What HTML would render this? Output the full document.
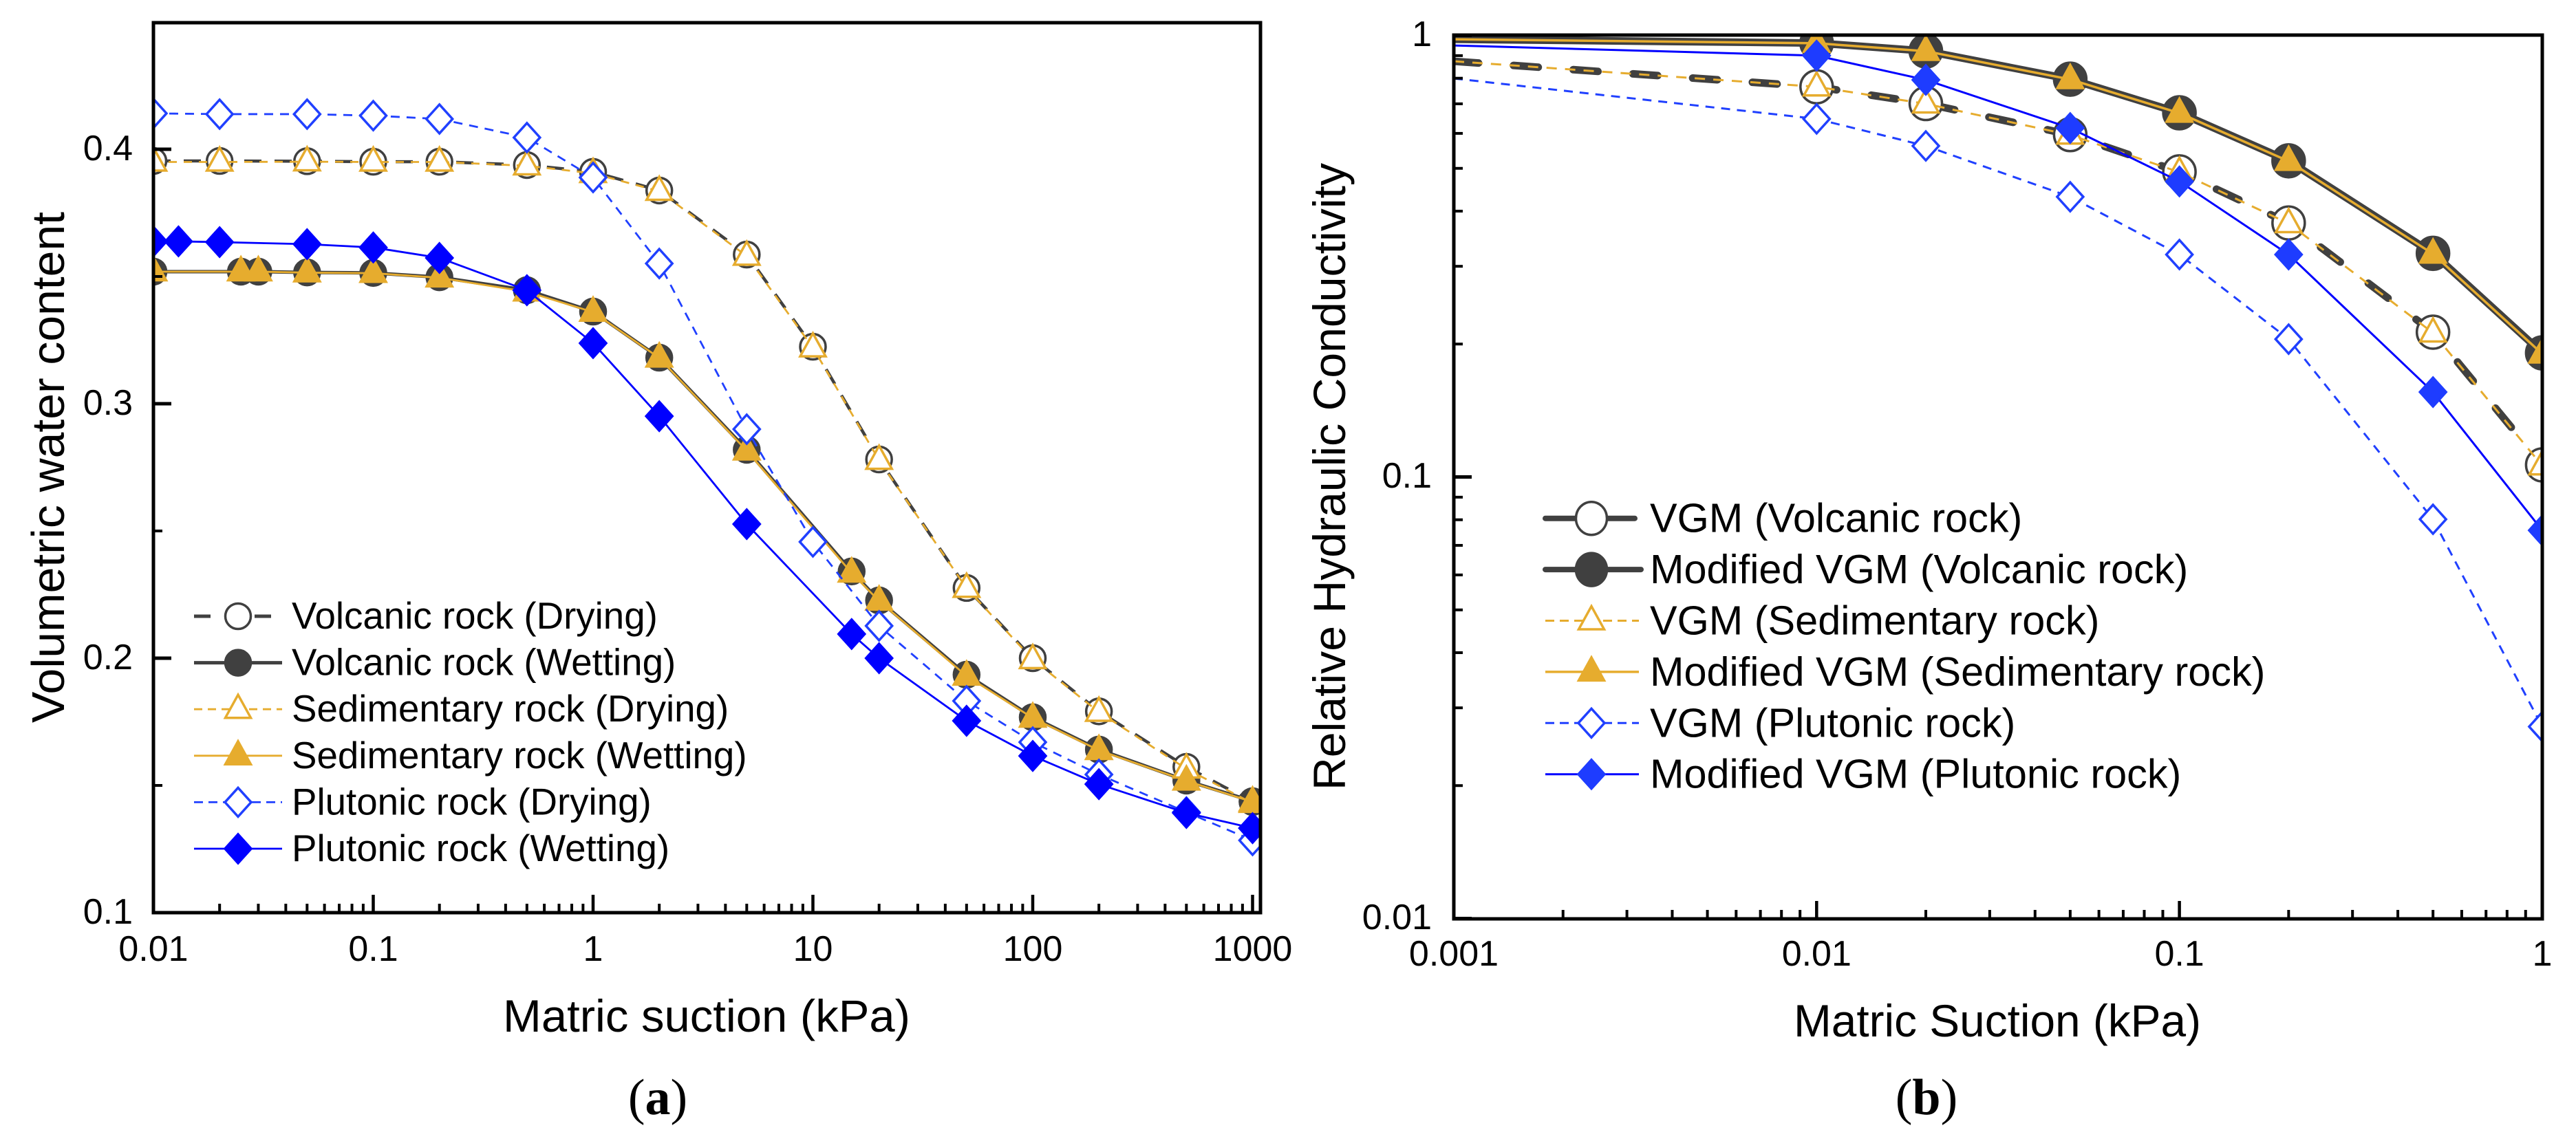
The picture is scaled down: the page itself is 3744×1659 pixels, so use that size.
<!DOCTYPE html>
<html lang="en">
<head>
<meta charset="utf-8">
<title>Water retention and relative hydraulic conductivity curves</title>
<style>
  html, body { margin: 0; padding: 0; background: #fff; width: 3744px; height: 1659px; overflow: hidden; }
  svg { display: block; }
  text { font-family: "Liberation Sans", sans-serif; fill: #000; }
  .cap { font-family: "Liberation Serif", serif; font-size: 74px; }
</style>
</head>
<body>
<svg id="root" xmlns="http://www.w3.org/2000/svg" width="3744" height="1659" viewBox="0 0 3744 1659">
  <rect width="3744" height="1659" fill="#fff"/>
  <defs>
    <clipPath id="clipA"><rect x="223" y="33" width="1609" height="1294"/></clipPath>
    <clipPath id="clipB"><rect x="2113" y="51" width="1582" height="1285"/></clipPath>
  </defs>
  <g id="panelA"></g>
  <g id="panelB"></g>
  <text class="cap" x="956" y="1620" text-anchor="middle">(<tspan font-weight="bold">a</tspan>)</text>
  <text class="cap" x="2800" y="1620" text-anchor="middle">(<tspan font-weight="bold">b</tspan>)</text>
</svg>
<script>
// ---- Panel A data: matric suction (kPa) vs. volumetric water content ----
const aDryX = [0.01, 0.02, 0.05, 0.1, 0.2, 0.5, 1, 2, 5, 10, 20, 50, 100, 200, 500, 1000];
const aWetX = [0.01, 0.025, 0.03, 0.05, 0.1, 0.2, 0.5, 1, 2, 5, 15, 20, 50, 100, 200, 500, 1000];
const aPluWetX = [0.01, 0.013, 0.02, 0.05, 0.1, 0.2, 0.5, 1, 2, 5, 15, 20, 50, 100, 200, 500, 1000];
const aVolcanicDry = [0.3954, 0.3954, 0.3953, 0.3951, 0.3951, 0.3938, 0.3911, 0.3838, 0.3586, 0.3224, 0.2781, 0.2276, 0.2, 0.1791, 0.1573, 0.1435];
const aVolcanicWet = [0.3519, 0.3519, 0.3519, 0.3516, 0.3514, 0.3497, 0.3446, 0.3362, 0.3181, 0.2819, 0.2341, 0.2227, 0.1935, 0.1768, 0.1641, 0.1519, 0.1438];
const aSedimentDry = [0.395, 0.395, 0.3951, 0.395, 0.395, 0.3935, 0.3905, 0.3835, 0.358, 0.322, 0.2778, 0.2275, 0.1995, 0.1788, 0.1565, 0.143];
const aSedimentWet = [0.3519, 0.3519, 0.3519, 0.3515, 0.3513, 0.3495, 0.344, 0.336, 0.318, 0.2815, 0.2335, 0.2225, 0.193, 0.1765, 0.1638, 0.1518, 0.1435];
const aPlutonicDry = [0.4141, 0.4138, 0.4138, 0.4132, 0.4119, 0.4046, 0.3889, 0.3551, 0.29, 0.2457, 0.2127, 0.1832, 0.167, 0.1543, 0.1395, 0.1284];
const aPlutonicWet = [0.3638, 0.3638, 0.3635, 0.3627, 0.3614, 0.3573, 0.3446, 0.3238, 0.2951, 0.2527, 0.2095, 0.2, 0.1754, 0.1616, 0.1505, 0.1392, 0.1332];
const aXTicks = ['0.01', '0.1', '1', '10', '100', '1000'];
const aYTicks = ['0.1', '0.2', '0.3', '0.4'];
const aYMinor = [0.15, 0.25, 0.35];
const aLegend = ['Volcanic rock (Drying)', 'Volcanic rock (Wetting)', 'Sedimentary rock (Drying)', 'Sedimentary rock (Wetting)', 'Plutonic rock (Drying)', 'Plutonic rock (Wetting)'];

// ---- Panel B data: matric suction (kPa) vs. relative hydraulic conductivity ----
const bX = [0.001, 0.01, 0.02, 0.05, 0.1, 0.2, 0.5, 1];
const bVolcanicVGM = [0.874, 0.765, 0.701, 0.596, 0.491, 0.376, 0.2128, 0.1065];
const bVolcanicMod = [0.98, 0.961, 0.922, 0.796, 0.668, 0.52, 0.321, 0.191];
const bSedimentVGM = [0.874, 0.765, 0.7, 0.595, 0.49, 0.375, 0.212, 0.106];
const bSedimentMod = [0.98, 0.96, 0.921, 0.795, 0.667, 0.519, 0.32, 0.19];
const bPlutonicVGM = [0.799, 0.647, 0.562, 0.431, 0.319, 0.2052, 0.0802, 0.0272];
const bPlutonicMod = [0.949, 0.9, 0.793, 0.617, 0.467, 0.319, 0.1557, 0.0757];
const bXTicks = ['0.001', '0.01', '0.1', '1'];
const bYTicks = ['0.01', '0.1', '1'];
const bLegend = ['VGM (Volcanic rock)', 'Modified VGM (Volcanic rock)', 'VGM (Sedimentary rock)', 'Modified VGM (Sedimentary rock)', 'VGM (Plutonic rock)', 'Modified VGM (Plutonic rock)'];

// ---- Axis functions ----
const axA = {
  x: v => 223 + (Math.log10(v) + 2) * 319.5,
  y: v => 1327 - (v - 0.1) * 3700,
  l: 223, r: 1832, t: 33, b: 1327
};
const axB = {
  x: v => 2113 + (Math.log10(v) + 3) * 527.3,
  y: v => 51.5 - Math.log10(v) * 642,
  l: 2113, r: 3695, t: 51, b: 1336
};

const NS = 'http://www.w3.org/2000/svg';
function make(tag, attrs, parent, txt) {
  const e = document.createElementNS(NS, tag);
  for (const k in attrs) e.setAttribute(k, attrs[k]);
  if (txt !== undefined) e.textContent = txt;
  parent.appendChild(e);
  return e;
}

const DARK = '#404040', GOLD = '#e6ac2e', BLUE = '#2040ff', PURE = '#0000ff';

function markerShape(kind, cx, cy, stroke, fill, rx, ry, parent, name) {
  let m;
  if (kind === 'circle') {
    m = make('ellipse', { cx: cx, cy: cy, rx: rx, ry: ry, fill: fill, stroke: stroke, 'stroke-width': 3.5 }, parent);
  } else if (kind === 'triangle') {
    m = make('polygon', { points: `${cx},${cy - 21} ${cx + 18.5},${cy + 12.5} ${cx - 18.5},${cy + 12.5}`, fill: fill, stroke: stroke, 'stroke-width': 3.5 }, parent);
  } else {
    m = make('polygon', { points: `${cx},${cy - 21} ${cx + 19},${cy} ${cx},${cy + 21} ${cx - 19},${cy}`, fill: fill, stroke: stroke, 'stroke-width': 3.5 }, parent);
  }
  
  
}

function linePath(pts) {
  return pts.map((p, i) => (i ? 'L' : 'M') + p[0].toFixed(2) + ',' + p[1].toFixed(2)).join(' ');
}

function drawSeries(ax, group, key, xs, ys, st, firstMarker) {
  const g = make('g', {}, group);
  
  
  const pts = xs.map((x, i) => [ax.x(x), ax.y(ys[i])]);
  const line = make('path', {
    d: linePath(pts), fill: 'none', stroke: st.color, 'stroke-width': st.lw,
    'stroke-dasharray': st.dash || 'none', 'stroke-linecap': st.cap || 'butt', 'stroke-linejoin': 'round'
  }, g);
  
  
  for (let i = firstMarker; i < pts.length; i++) {
    markerShape(st.kind, pts[i][0], pts[i][1], st.mstroke, st.mfill, st.rx, st.ry, g, 'marker-' + key);
  }
}

function tick(group, x1, y1, x2, y2, w, name) {
  const t = make('line', { x1: x1, y1: y1, x2: x2, y2: y2, stroke: '#000', 'stroke-width': w }, group);
  
  
}

function label(group, txt, x, y, size, anchor, name) {
  const t = make('text', { x: x, y: y, 'font-size': size, 'text-anchor': anchor }, group, txt);
  
  
  return t;
}

function frame(group, ax, name) {
  const r = make('rect', { x: ax.l, y: ax.t, width: ax.r - ax.l, height: ax.b - ax.t, fill: 'none', stroke: '#000', 'stroke-width': 5 }, group);
  
  
}

function logMinorX(group, ax, labels) {
  labels.forEach((lab, i) => {
    const base = parseFloat(lab);
    const px = ax.x(base);
    tick(group, px, ax.b, px, ax.b - 26, 4.5, 'x-major-tick');
    label(group, lab, px, ax === axA ? 1397 : 1404, 52, 'middle', 'x-tick-label');
    if (i < labels.length - 1) {
      for (let m = 2; m < 10; m++) {
        const q = ax.x(base * m);
        tick(group, q, ax.b, q, ax.b - 13, 4, 'x-minor-tick');
      }
    }
  });
}

function legend(group, rows, styles, cfg) {
  rows.forEach((txt, i) => {
    const y = cfg.y0 + cfg.step * i;
    const st = styles[i];
    const g = make('g', {}, group);
    
    
    const ln = make('line', {
      x1: cfg.x1, y1: y, x2: st.lx2 || cfg.x2, y2: y, stroke: st.color,
      'stroke-width': st.llw || st.lw, 'stroke-dasharray': st.ldash || 'none', 'stroke-linecap': st.lcap || 'butt'
    }, g);
    
    
    markerShape(st.kind, cfg.mx, y, st.mstroke, st.mfill, cfg.rx, cfg.ry, g, 'legend-marker');
    label(g, txt, cfg.tx, y + cfg.base, cfg.size, 'start', 'legend-label');
  });
}

// ---- Panel A ----
(function () {
  const root = document.getElementById('panelA');
  const styles = [
    { color: DARK, lw: 4.5, dash: '25 19', kind: 'circle', mstroke: DARK, mfill: '#fff', rx: 18.5, ry: 18.5, llw: 5, ldash: '24 64 24 100', lcap: 'butt' },
    { color: DARK, lw: 5, kind: 'circle', mstroke: DARK, mfill: DARK, rx: 18.5, ry: 18.5 },
    { color: GOLD, lw: 2.8, dash: '12 10', kind: 'triangle', mstroke: GOLD, mfill: '#fff', ldash: '12 8' },
    { color: GOLD, lw: 2.8, kind: 'triangle', mstroke: GOLD, mfill: GOLD },
    { color: BLUE, lw: 2.8, dash: '13 10', kind: 'diamond', mstroke: BLUE, mfill: '#fff', ldash: '13 8' },
    { color: PURE, lw: 2.8, kind: 'diamond', mstroke: PURE, mfill: PURE }
  ];
  const plot = make('g', { 'clip-path': 'url(#clipA)' }, root);
  
  
  drawSeries(axA, plot, 'volcanic-drying', aDryX, aVolcanicDry, styles[0], 0);
  drawSeries(axA, plot, 'volcanic-wetting', aWetX, aVolcanicWet, styles[1], 0);
  drawSeries(axA, plot, 'sedimentary-drying', aDryX, aSedimentDry, styles[2], 0);
  drawSeries(axA, plot, 'sedimentary-wetting', aWetX, aSedimentWet, styles[3], 0);
  drawSeries(axA, plot, 'plutonic-drying', aDryX, aPlutonicDry, styles[4], 0);
  drawSeries(axA, plot, 'plutonic-wetting', aPluWetX, aPlutonicWet, styles[5], 0);

  frame(root, axA, 'panel-a-frame');
  logMinorX(root, axA, aXTicks);
  aYTicks.forEach(lab => {
    const py = axA.y(parseFloat(lab));
    tick(root, axA.l, py, axA.l + 26, py, 5, 'y-major-tick');
    label(root, lab, 193, py + 16, 52, 'end', 'y-tick-label');
  });
  aYMinor.forEach(v => {
    const py = axA.y(v);
    tick(root, axA.l, py, axA.l + 13, py, 4, 'y-minor-tick');
  });
  const xt = label(root, 'Matric suction (kPa)', 1027, 1500, 66, 'middle', 'x-axis-title');
  xt.setAttribute('textLength', 592);
  xt.setAttribute('lengthAdjust', 'spacingAndGlyphs');
  const yt = label(root, 'Volumetric water content', 0, 0, 67, 'middle', 'y-axis-title');
  yt.setAttribute('transform', 'translate(93,679.5) rotate(-90)');
  yt.setAttribute('textLength', 743);
  yt.setAttribute('lengthAdjust', 'spacingAndGlyphs');

  const lg = make('g', {}, root);
  
  
  legend(lg, aLegend, styles, { y0: 896, step: 67.6, x1: 282, x2: 410, mx: 346, tx: 424, base: 18, size: 54.7, rx: 18.5, ry: 18.5 });
})();

// ---- Panel B ----
(function () {
  const root = document.getElementById('panelB');
  const styles = [
    { color: DARK, lw: 11, dash: '36 51', cap: 'round', kind: 'circle', mstroke: DARK, mfill: '#fff', rx: 23.5, ry: 24, llw: 8, lcap: 'round', lx2: 2376 },
    { color: DARK, lw: 11, kind: 'circle', mstroke: DARK, mfill: DARK, rx: 23.5, ry: 24, llw: 8, lcap: 'round', lx2: 2385 },
    { color: GOLD, lw: 3, dash: '15 12', kind: 'triangle', mstroke: GOLD, mfill: '#fff', ldash: '13 8' },
    { color: GOLD, lw: 3.5, kind: 'triangle', mstroke: GOLD, mfill: GOLD },
    { color: BLUE, lw: 3, dash: '13 10', kind: 'diamond', mstroke: BLUE, mfill: '#fff', ldash: '13 8' },
    { color: PURE, lw: 3, kind: 'diamond', mstroke: '#1e3cff', mfill: '#1e3cff' }
  ];
  const plot = make('g', { 'clip-path': 'url(#clipB)' }, root);
  
  
  drawSeries(axB, plot, 'vgm-volcanic', bX, bVolcanicVGM, styles[0], 1);
  drawSeries(axB, plot, 'modified-vgm-volcanic', bX, bVolcanicMod, styles[1], 1);
  drawSeries(axB, plot, 'vgm-sedimentary', bX, bSedimentVGM, styles[2], 1);
  drawSeries(axB, plot, 'modified-vgm-sedimentary', bX, bSedimentMod, styles[3], 1);
  drawSeries(axB, plot, 'vgm-plutonic', bX, bPlutonicVGM, styles[4], 1);
  drawSeries(axB, plot, 'modified-vgm-plutonic', bX, bPlutonicMod, styles[5], 1);

  frame(root, axB, 'panel-b-frame');
  logMinorX(root, axB, bXTicks);
  bYTicks.forEach((lab, i) => {
    const base = parseFloat(lab);
    const py = axB.y(base);
    tick(root, axB.l, py, axB.l + 26, py, 5, 'y-major-tick');
    label(root, lab, 2081, py + 15.5, 52, 'end', 'y-tick-label');
    if (i < bYTicks.length - 1) {
      for (let m = 2; m < 10; m++) {
        const q = axB.y(base * m);
        tick(root, axB.l, q, axB.l + 13, q, 4, 'y-minor-tick');
      }
    }
  });
  const xt = label(root, 'Matric Suction (kPa)', 2903, 1507, 66, 'middle', 'x-axis-title');
  xt.setAttribute('textLength', 592);
  xt.setAttribute('lengthAdjust', 'spacingAndGlyphs');
  const yt = label(root, 'Relative Hydraulic Conductivity', 0, 0, 66.2, 'middle', 'y-axis-title');
  yt.setAttribute('transform', 'translate(1955,693) rotate(-90)');
  yt.setAttribute('textLength', 912);
  yt.setAttribute('lengthAdjust', 'spacingAndGlyphs');

  const lg = make('g', {}, root);
  
  
  legend(lg, bLegend, styles, { y0: 753.7, step: 74.4, x1: 2246, x2: 2382, mx: 2313, tx: 2398, base: 20, size: 59.4, rx: 22.5, ry: 24 });
})();
</script>
</body>
</html>
